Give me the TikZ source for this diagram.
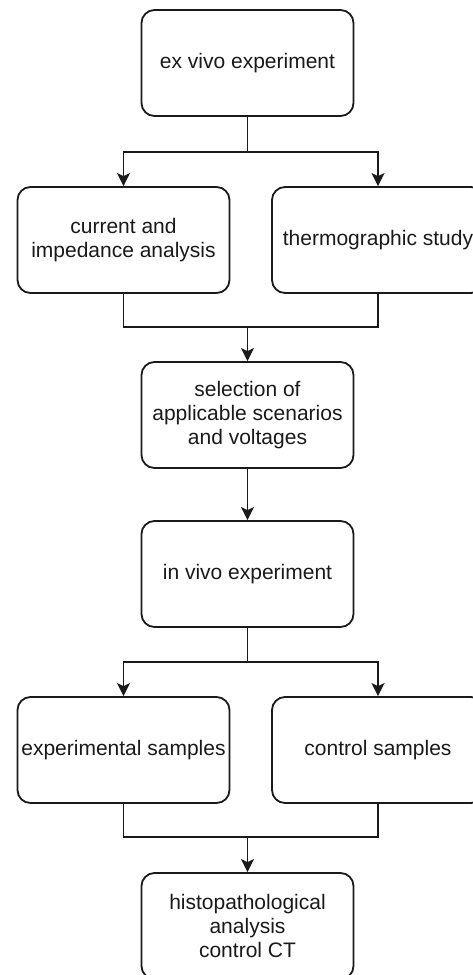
\documentclass[tikz,border=0pt]{standalone}
\usepackage{fontspec}
\setmainfont{Liberation Sans}
\usetikzlibrary{arrows.meta}
\definecolor{ink}{HTML}{1A1A1A}
\begin{document}
\begin{tikzpicture}[x=1pt,y=-1pt,
  box/.style={draw=ink, line width=1.8pt, rounded corners=13pt, fill=white,
    minimum width=212pt, minimum height=106pt, inner sep=0pt, align=center,
    font=\fontsize{21}{24}\selectfont, text=ink},
  conn/.style={draw=ink, line width=1.8pt},
  arr/.style={conn, -{Stealth[length=13pt,width=13pt,inset=3pt]}}]
\useasboundingbox (0,0) rectangle (473,975);
\clip (0,0) rectangle (473,975);
\fill[white] (0,0) rectangle (473,975);
\node[box] (b1) at (247.5,63) {ex vivo experiment};
\node[box] (b2) at (123.5,240) {current and\\impedance analysis};
\node[box] (b3) at (378,240) {thermographic study};
\node[box] (b4) at (247.5,415) {selection of\\applicable scenarios\\and voltages};
\node[box] (b5) at (247.5,574) {in vivo experiment};
\node[box] (b6) at (123.5,750) {experimental samples};
\node[box] (b7) at (378,750) {control samples};
\node[box] (b8) at (247.5,926) {histopathological\\analysis\\control CT};
\coordinate (j1) at (247.5,152);
\coordinate (j2) at (247.5,327);
\coordinate (j3) at (247.5,662);
\coordinate (j4) at (247.5,837);
\draw[conn] (b1.south) -- (j1);
\draw[arr] (j1) -| (b2.north);
\draw[arr] (j1) -| (b3.north);
\draw[conn] (b2.south) |- (j2);
\draw[conn] (b3.south) |- (j2);
\draw[arr] (j2) -- (b4.north);
\draw[arr] (b4.south) -- (b5.north);
\draw[conn] (b5.south) -- (j3);
\draw[arr] (j3) -| (b6.north);
\draw[arr] (j3) -| (b7.north);
\draw[conn] (b6.south) |- (j4);
\draw[conn] (b7.south) |- (j4);
\draw[arr] (j4) -- (b8.north);
\end{tikzpicture}
\end{document}
